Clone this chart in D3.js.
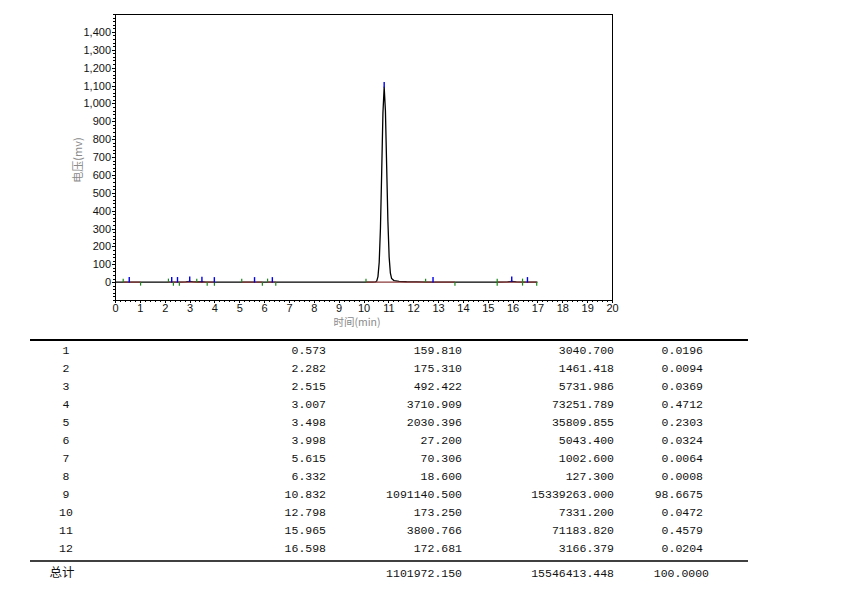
<!DOCTYPE html>
<html><head><meta charset="utf-8">
<script src="https://cdn.jsdelivr.net/npm/d3@7"></script>
<style>
html,body{margin:0;padding:0;background:#fff;}
svg{display:block;}
</style></head>
<body>
<svg id="chart" width="854" height="602"></svg>
<script>
// ---- Chromatogram trace (time in min, signal in mV) ----
const traceTime = [0,0.3,0.573,1.0,2.1,2.282,2.4,2.515,2.7,2.85,3.007,3.15,3.3,3.498,3.65,3.998,5.615,6.332,9,10.0,10.4,
  10.482,10.532,10.582,10.632,10.682,10.732,10.782,10.832,10.882,10.932,10.982,11.032,11.082,11.132,11.232,11.432,11.732,12.132,12.532,
  12.798,13,15.5,15.8,15.965,16.15,16.4,16.598,16.8,17.0];
const traceSignal = [0,0,0.16,0,0,0.18,0.1,0.5,0.3,1.5,3.7,1.5,0.6,2.0,0.3,0.03,0.07,0.02,0,0,0,
  1,6,31,111,301,616,946,1091,960,650,340,140,50,20,8,4,2,1,0,
  0.17,0,0,1.5,3.8,1.2,0.2,0.17,0,0];

// ---- Integration marks ----
const startEndTimes = [0.33,1.03,2.15,2.35,2.59,3.29,3.71,4.0,5.1,5.93,6.14,6.47,10.1,12.5,13.68,15.38,16.4,16.97];
const startEndSide  = ["up","down","up","down","down","up","down","down","up","down","up","down","up","up","down","both","both","down"];
const baselineStart = [0.33,2.15,5.1,6.14,10.1,15.38];
const baselineEnd   = [1.03,4.0,5.93,6.47,13.68,16.97];

// ---- Peak table ----
const peakNo   = [1,2,3,4,5,6,7,8,9,10,11,12];
const retTime  = [0.573,2.282,2.515,3.007,3.498,3.998,5.615,6.332,10.832,12.798,15.965,16.598];
const heightUV = [159.810,175.310,492.422,3710.909,2030.396,27.200,70.306,18.600,1091140.500,173.250,3800.766,172.681];
const areaVal  = [3040.700,1461.418,5731.986,73251.789,35809.855,5043.400,1002.600,127.300,15339263.000,7331.200,71183.820,3166.379];
const areaPct  = [0.0196,0.0094,0.0369,0.4712,0.2303,0.0324,0.0064,0.0008,98.6675,0.0472,0.4579,0.0204];
const totalLabel = "总计";
const totalHeight = 1101972.150, totalArea = 15546413.448, totalPct = 100.0000;

// ---- Axis ticks ----
const xTicks = d3.range(0,21,1);
const yTicks = d3.range(0,1401,100);
const xTitle = "时间(min)", yTitle = "电压(mv)";

const svg = d3.select("#chart");
svg.append("rect").attr("width",854).attr("height",602).attr("fill","#fff");

const x = d3.scaleLinear().domain([0,20]).range([115,612]);
const y = d3.scaleLinear().domain([-100,1500]).range([300,14]);

const axisFont = "'Liberation Sans', Arial, sans-serif";
// frame
svg.append("path").attr("d",`M115,14H612V300`).attr("fill","none").attr("stroke","#000").attr("stroke-width",1).attr("shape-rendering","crispEdges");

// minor ticks
const gyMinor = svg.append("g").attr("transform","translate(115,0)")
  .call(d3.axisLeft(y).tickValues(d3.range(-100,1501,20)).tickSize(2).tickFormat(""));
gyMinor.select(".domain").remove();
const gxMinor = svg.append("g").attr("transform","translate(0,300)")
  .call(d3.axisBottom(x).tickValues(d3.range(0,20.01,0.2)).tickSize(2).tickFormat(""));
gxMinor.select(".domain").remove();

const gy = svg.append("g").attr("transform","translate(115,0)")
  .call(d3.axisLeft(y).tickValues(yTicks).tickSize(3).tickPadding(1).tickFormat(d3.format(",")).tickSizeOuter(0));
const gx = svg.append("g").attr("transform","translate(0,300)")
  .call(d3.axisBottom(x).tickValues(xTicks).tickSize(3).tickPadding(1).tickSizeOuter(0));
[gy,gx].forEach(g=>{
  g.selectAll("text").attr("font-family",axisFont).attr("font-size",11).attr("fill","#111");
  g.select(".domain").attr("shape-rendering","crispEdges");
});
svg.selectAll(".tick line").attr("stroke","#000").attr("shape-rendering","crispEdges");

// titles
svg.append("text").attr("transform","translate(82,160) rotate(-90)").attr("text-anchor","middle")
  .attr("font-family","'Noto Sans CJK SC', sans-serif").attr("font-size",11).attr("fill","#8a8a8a").text(yTitle);
svg.append("text").attr("x",357).attr("y",326).attr("text-anchor","middle")
  .attr("font-family","'Noto Sans CJK SC', sans-serif").attr("font-size",10.5).attr("fill","#8a8a8a").text(xTitle);

// trace
const pts = traceTime.map((t,i)=>[t,traceSignal[i]]);
svg.append("path").datum(pts)
  .attr("d",d3.line().x(d=>x(d[0])).y(d=>y(d[1])))
  .attr("fill","none").attr("stroke","#000").attr("stroke-width",1.3).attr("stroke-linejoin","round");

// baselines
svg.append("g").selectAll("line").data(baselineStart).join("line")
  .attr("x1",(d)=>x(d)).attr("x2",(d,i)=>x(baselineEnd[i]))
  .attr("y1",y(0)).attr("y2",y(0)).attr("stroke","#8b3a3a").attr("stroke-width",1.2);

// start/end markers
svg.append("g").selectAll("line").data(startEndTimes).join("line")
  .attr("x1",d=>x(d)).attr("x2",d=>x(d))
  .attr("y1",(d,i)=> startEndSide[i]==="down" ? y(0) : y(0)-3.5)
  .attr("y2",(d,i)=> startEndSide[i]==="up" ? y(0) : y(0)+3.5)
  .attr("stroke","#1a8a1a").attr("stroke-width",1.2);

// apex markers
svg.append("g").selectAll("line").data(retTime).join("line")
  .attr("x1",d=>x(d)).attr("x2",d=>x(d))
  .attr("y1",(d,i)=>y(heightUV[i]/1000)+0.5).attr("y2",(d,i)=>y(heightUV[i]/1000)-5)
  .attr("stroke","#0000ee").attr("stroke-width",1.4);

// ---- table ----
const mono = "'Liberation Mono', 'DejaVu Sans Mono', monospace";
const tbl = svg.append("g");
tbl.append("line").attr("x1",30).attr("x2",748).attr("y1",340).attr("y2",340).attr("stroke","#000").attr("stroke-width",2);
tbl.append("line").attr("x1",30).attr("x2",748).attr("y1",561).attr("y2",561).attr("stroke","#000").attr("stroke-width",1.5);

const rowY = d3.scaleLinear().domain([0,11]).range([350,548]);
const cols = [
  {x:66, anchor:"middle", get:i=>String(peakNo[i])},
  {x:326, anchor:"end", get:i=>retTime[i].toFixed(3)},
  {x:462, anchor:"end", get:i=>heightUV[i].toFixed(3)},
  {x:614, anchor:"end", get:i=>areaVal[i].toFixed(3)},
  {x:703, anchor:"end", get:i=>areaPct[i].toFixed(4)}
];
peakNo.forEach((p,i)=>{
  cols.forEach(c=>{
    tbl.append("text").attr("x",c.x).attr("y",rowY(i)).attr("dy","0.35em")
      .attr("text-anchor",c.anchor).attr("font-family",mono).attr("font-size",11.5).attr("fill","#111").text(c.get(i));
  });
});
const totY = 573;
tbl.append("text").attr("x",62).attr("y",totY).attr("dy","0.35em").attr("text-anchor","middle")
  .attr("font-family","'Noto Sans CJK SC', sans-serif").attr("font-size",12.5).attr("fill","#111").text(totalLabel);
[[462,totalHeight.toFixed(3)],[614,totalArea.toFixed(3)],[709,totalPct.toFixed(4)]].forEach(([cx,t])=>{
  tbl.append("text").attr("x",cx).attr("y",totY).attr("dy","0.35em").attr("text-anchor","end")
    .attr("font-family",mono).attr("font-size",11.5).attr("fill","#111").text(t);
});
</script>
</body></html>
